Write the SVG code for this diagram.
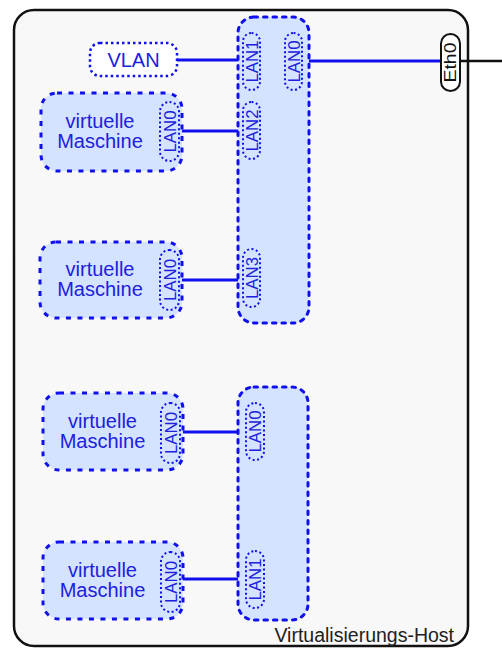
<svg xmlns="http://www.w3.org/2000/svg" width="502" height="649" viewBox="0 0 502 649">
<style>
text{font-family:"Liberation Sans",Arial,sans-serif}
.host{fill:#f8f8f8;stroke:#111;stroke-width:2.5}
.sw{fill:#d4e3ff;stroke:#1010ee;stroke-width:3;stroke-dasharray:3.5 6;stroke-linecap:round}
.vm{fill:#d4e3ff;stroke:#1010ee;stroke-width:3;stroke-dasharray:5 6.5}
.vlan{fill:#fff;stroke:#1010ee;stroke-width:2.5;stroke-dasharray:2.5 3}
.port{fill:#d4e3ff;stroke:#1010ee;stroke-width:2;stroke-dasharray:2 2.5}
.eth{fill:#fff;stroke:#111;stroke-width:2}
.lbl{font-size:20px;fill:#2020dd;text-anchor:middle}
.pl{font-size:16.5px;fill:#2020dd;text-anchor:middle}
.el{font-size:16.5px;fill:#111;text-anchor:middle}
.c{stroke:#1010ee;stroke-width:3;fill:none}
</style>
<g id="host">
<rect class="host" x="14" y="10" width="454" height="636" rx="20"/>
<text x="454" y="642" style="font-size:19.5px;fill:#222;text-anchor:end">Virtualisierungs-Host</text>
</g>
<g id="connectors">
<line class="c" x1="177" y1="60" x2="244" y2="60"/>
<line class="c" x1="180" y1="131" x2="244" y2="131"/>
<line class="c" x1="180" y1="280" x2="244" y2="280"/>
<line class="c" x1="181" y1="432" x2="247" y2="432"/>
<line class="c" x1="181" y1="579" x2="247" y2="579"/>
<line class="c" x1="302" y1="61" x2="441" y2="61"/>
<line x1="460" y1="61" x2="502" y2="61" stroke="#111" stroke-width="2.5"/>
</g>
<g id="switch1">
<rect class="sw" x="238" y="17" width="71" height="306" rx="16"/>
<rect class="port" x="243" y="33" width="17" height="57" rx="8.5"/>
<text class="pl" textLength="42" lengthAdjust="spacingAndGlyphs" transform="translate(257.5,61.5) rotate(-90)">LAN1</text>
<rect class="port" x="285" y="33" width="17" height="57" rx="8.5"/>
<text class="pl" textLength="42" lengthAdjust="spacingAndGlyphs" transform="translate(299.5,61.5) rotate(-90)">LAN0</text>
<rect class="port" x="243" y="102" width="17" height="57" rx="8.5"/>
<text class="pl" textLength="42" lengthAdjust="spacingAndGlyphs" transform="translate(257.5,130.5) rotate(-90)">LAN2</text>
<rect class="port" x="243" y="249" width="17" height="58" rx="8.5"/>
<text class="pl" textLength="42" lengthAdjust="spacingAndGlyphs" transform="translate(257.5,278) rotate(-90)">LAN3</text>
</g>
<g id="switch2">
<rect class="sw" x="238" y="387" width="70" height="233" rx="16"/>
<rect class="port" x="246" y="403" width="18" height="57" rx="9"/>
<text class="pl" textLength="42" lengthAdjust="spacingAndGlyphs" transform="translate(261,431.5) rotate(-90)">LAN0</text>
<rect class="port" x="246" y="551" width="18" height="57" rx="9"/>
<text class="pl" textLength="42" lengthAdjust="spacingAndGlyphs" transform="translate(261,579.5) rotate(-90)">LAN1</text>
</g>
<g id="vlan">
<rect class="vlan" x="90" y="43" width="87" height="33" rx="10"/>
<text class="lbl" x="133.5" y="67">VLAN</text>
</g>
<g id="vm1">
<rect class="vm" x="41" y="93" width="141" height="78" rx="16"/>
<text class="lbl" x="100" y="128">virtuelle</text>
<text class="lbl" x="100" y="148">Maschine</text>
<rect class="port" x="160" y="102" width="19" height="59" rx="9.5"/>
<text class="pl" textLength="42" lengthAdjust="spacingAndGlyphs" transform="translate(175.5,131.5) rotate(-90)">LAN0</text>
</g>
<g id="vm2">
<rect class="vm" x="40" y="242" width="142" height="76" rx="16"/>
<text class="lbl" x="100" y="276">virtuelle</text>
<text class="lbl" x="100" y="296">Maschine</text>
<rect class="port" x="160" y="250" width="19" height="60" rx="9.5"/>
<text class="pl" textLength="42" lengthAdjust="spacingAndGlyphs" transform="translate(175.5,280) rotate(-90)">LAN0</text>
</g>
<g id="vm3">
<rect class="vm" x="43" y="393" width="140" height="77" rx="16"/>
<text class="lbl" x="102.5" y="428">virtuelle</text>
<text class="lbl" x="102.5" y="448">Maschine</text>
<rect class="port" x="161" y="403" width="19" height="60" rx="9.5"/>
<text class="pl" textLength="42" lengthAdjust="spacingAndGlyphs" transform="translate(176.5,433) rotate(-90)">LAN0</text>
</g>
<g id="vm4">
<rect class="vm" x="43" y="542" width="140" height="77" rx="16"/>
<text class="lbl" x="102.5" y="577">virtuelle</text>
<text class="lbl" x="102.5" y="597">Maschine</text>
<rect class="port" x="161" y="552" width="19" height="60" rx="9.5"/>
<text class="pl" textLength="42" lengthAdjust="spacingAndGlyphs" transform="translate(176.5,582) rotate(-90)">LAN0</text>
</g>
<g id="eth0">
<rect class="eth" x="441" y="34" width="19" height="57" rx="9.5"/>
<text class="el" textLength="40" lengthAdjust="spacingAndGlyphs" transform="translate(456,62.5) rotate(-90)">Eth0</text>
</g>
</svg>
